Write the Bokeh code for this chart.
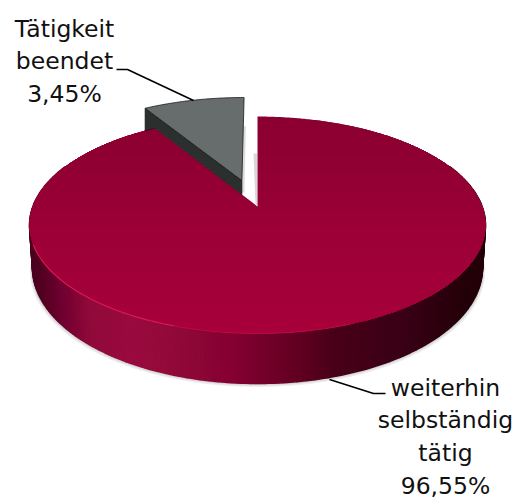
import numpy as np
from bokeh.plotting import figure
from bokeh.embed import file_html
from bokeh.resources import INLINE
from bokeh.core.properties import value

# Drawn slice shares (the printed labels differ from the drawn sweep)
slice_names = ["weiterhin selbständig tätig", "Tätigkeit beendet"]
slice_shares = [91.25, 8.75]
slice_labels = [["weiterhin", "selbständig", "tätig", "96,55%"], ["Tätigkeit", "beendet", "3,45%"]]
label_anchor = [(445, 387), (64, 28)]
line_step = 32.7
leaders = [([329, 373, 385], [379, 393, 393]), ([116, 127, 193], [69, 69, 100])]
explode = 0.267

# Projection of the disc to the picture
cx, cy, a, b, k = 257.0, 206.0, 224.6, 105.3, 0.1705
depth_front, side_scale = 50.0, 0.987

side_x = [30, 37, 60, 87, 130, 167, 233, 300, 333, 400, 433, 470, 486]
side_rgb = [(0x4c, 0, 0x20), (0x50, 0, 0x20), (0x70, 0, 0x30), (0x90, 0x0a, 0x3a), (0x9a, 0x0a, 0x3e),
            (0x92, 0x0a, 0x3a), (0x84, 0, 0x30), (0x60, 0, 0x20), (0x48, 0, 0x18), (0x3a, 0, 0x16),
            (0x30, 0, 0x10), (0x22, 0, 0x08), (0x24, 0, 0x0a)]
face_y = [116, 230, 333]
face_rgb = [(0x8a, 0, 0x30), (0x9c, 0, 0x36), (0xa8, 0, 0x3a)]


def proj(u, v, z=0.0, scale=1.0):
    w = 1 + k * v
    return cx + a * scale * u / w, cy - b * v / w + z * depth_front * (1 - k) / w


def circ(t):
    r = np.radians(t)
    return np.sin(r), np.cos(r)


def hexc(rgb):
    return "#%02x%02x%02x" % tuple(int(round(c)) for c in rgb)


p = figure(width=513, height=499, x_range=(0, 513), y_range=(499, 0), toolbar_location=None,
           output_backend="svg", min_border=0, outline_line_color=None, background_fill_color="white",
           border_fill_color=None)
p.axis.visible = False
p.grid.visible = False

end_main = 360 * slice_shares[0] / 100
th_main = np.linspace(0, end_main, 361)
u_m, v_m = circ(th_main)

# soft drop shadow below the disc
th_all = np.linspace(0, 360, 721)
ua, va = circ(th_all)
for off, col in [(3.5, "#eeeeee"), (2.3, "#dedede"), (1.2, "#c8c8c8")]:
    xs, ys = proj(ua, va, 1.0, side_scale)
    p.patch(cx + (xs - cx) * (1 + off / 300), ys + off, fill_color=col, line_color=None)

# side wall of the main slice, one strip per step of angle
th_side = np.linspace(66, 294, 230)
us, vs = circ(th_side)
tx, ty = proj(us, vs)
bx, by = proj(us, vs, 1.0, side_scale)
strip_x, strip_y, strip_c = [], [], []
for i in range(len(th_side) - 1):
    strip_x.append([tx[i], tx[i + 1], bx[i + 1], bx[i]])
    strip_y.append([ty[i], ty[i + 1], by[i + 1], by[i]])
    xm = (tx[i] + tx[i + 1]) / 2
    strip_c.append(hexc([np.interp(xm, side_x, [c[j] for c in side_rgb]) for j in range(3)]))
p.patches(strip_x, strip_y, fill_color=strip_c, line_color=strip_c, line_width=1.6)

# top face: full disc, one lower segment per colour band
ex, ey = proj(ua, va)
for y0 in np.linspace(face_y[0] - 1, face_y[-1] - 2, 44):
    keep = ey >= y0
    col = hexc([np.interp(y0, face_y, [c[j] for c in face_rgb]) for j in range(3)])
    p.patch(ex[keep], ey[keep], fill_color=col, line_color=None)

# the gap left by the exploded slice
th_g = np.linspace(end_main, 360, 60)
ug, vg = circ(th_g)
nx, ny = proj(np.r_[0, ug * 1.03], np.r_[0, vg * 1.03])
p.patch(nx, ny, fill_color="white", line_color=None)

# exploded slice
mid = end_main + (360 - end_main) / 2
du, dv = circ(mid)
du, dv = du * explode, dv * explode
ug_full = np.r_[du, ug + du]
vg_full = np.r_[dv, vg + dv]
gx, gy = proj(ug_full, vg_full)

# shade of the main wall seen through the gap
ax0, ay0 = proj(0, 0)
ax1, ay1 = proj(0, 0.55)
p.patch([ax1 - 4, ax1 - 0.5, ax0 - 0.5, ax0 - 2], [ay1, ay1, ay0, ay0 - 2], fill_color="#d8d8d8", line_color=None)
bx0, by0 = proj(du, dv, 0.3)
bx1, by1 = proj(du, dv + 0.62, 0)
p.patch([bx0 - 0.5, bx0 + 2.5, bx1 + 2.5, bx1 - 0.5], [by0, by0, by1, by1], fill_color="#dcdcdc", line_color=None)

# wall of the exploded slice, ending where the main slice starts to hide it
ex0, ey0 = proj(0, 0)
ex1, ey1 = proj(u_m[-1], v_m[-1])
edge_y_at_apex = ey0 + (gx[0] - ex0) * (ey1 - ey0) / (ex1 - ex0)
arc_x, arc_y = proj(u_m[-30:], v_m[-30:])
order = np.argsort(arc_x)
arc_y_at_corner = np.interp(gx[1], arc_x[order], arc_y[order])
wall_x = [gx[0], gx[1], gx[1], ex1, gx[0]]
wall_y = [gy[0], gy[1], arc_y_at_corner, ey1, edge_y_at_apex]
p.patch(wall_x, wall_y, fill_color="#2b2f2e", line_color="#111111", line_width=0.7)
p.patch(gx, gy, fill_color="#666d6c", line_color="#1a1a1a", line_width=0.8)

# rim highlight
th_h = np.linspace(198, 250, 80)
uh, vh = circ(th_h)
hx, hy = proj(uh, vh)
p.line(hx, hy, line_color="#e0185c", line_width=1.2, line_alpha=0.95)
th_h = np.linspace(160, 198, 50)
uh, vh = circ(th_h)
hx, hy = proj(uh, vh)
p.line(hx, hy, line_color="#c00c48", line_width=1.0, line_alpha=0.8)

for lx, ly in leaders:
    p.line(lx, ly, line_color="#000000", line_width=1.6)

for lines, (ax, ay) in zip(slice_labels, label_anchor):
    for i, t in enumerate(lines):
        p.text([ax], [ay + i * line_step], text=[t], text_align="center", text_baseline="middle",
               text_font=value("DejaVu Sans"), text_font_size="23.5px", text_color="#111111")

open("out.html", "w").write(file_html(p, INLINE))
